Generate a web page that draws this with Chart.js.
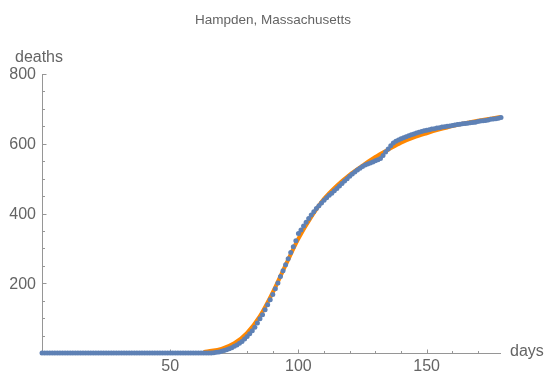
<!DOCTYPE html>
<html>
<head>
<meta charset="utf-8">
<script src="https://cdn.jsdelivr.net/npm/chart.js@4.4.1/dist/chart.umd.min.js"></script>
<style>
  html, body { margin: 0; padding: 0; background: #fff; }
</style>
</head>
<body>
<canvas id="graph" width="547" height="372"></canvas>
<script>
const blue =      'rgb(94, 129, 181)'
const orange =    'rgb(255, 135, 0)'
const axisGrey =  'rgb(150, 150, 150)'
const textGrey =  'rgb(100, 100, 100)'
const font =      '"Liberation Sans", Arial, sans-serif'

const chartTitle = 'Hampden, Massachusetts'
const xTitle = 'days'
const yTitle = 'deaths'

// cumulative deaths, one value per day starting at day 0
const deaths = [
    0,0,0,0,0,0,0,0,0,0, 0,0,0,0,0,0,0,0,0,0,
    0,0,0,0,0,0,0,0,0,0, 0,0,0,0,0,0,0,0,0,0,
    0,0,0,0,0,0,0,0,0,0, 0,0,0,0,0,0,0,0,0,0,
    0,0,0,0,0,0,0,1,2,3,                       //60-69
    5,7,9,12,15,19,23,28,33,40,                //70-79
    47,55,64,74,86,98,110,124,138,153,         //80-89
    168,184,201,219,236,253,270,288,305,322,   //90-99
    343,353,364,375,386,396,405,414,422,430,   //100-109
    438,445,452,458,465,472,479,486,493,500,   //110-119
    507,513,519,525,530,535,539,542,545,548,   //120-129
    551,554,558,566,576,585,594,602,607,611,   //130-139
    614,617,620,623,626,628,631,633,635,637,   //140-149
    639,640,642,643,645,646,648,649,650,651,   //150-159
    652,654,655,656,657,658,659,660,661,662,   //160-169
    664,665,666,667,668,670,671,672,673,675    //170-179
]
const deathDays = deaths.map((v, i) => i)

// fitted curve (orange)
const fitDays =   [63, 65, 70, 75, 80, 85, 90, 95, 100, 105, 110, 115, 120, 125, 130, 135, 140, 145, 150, 155, 160, 165, 170, 175, 179]
const fitValues = [3, 5, 12, 28, 58, 106, 174, 252, 328, 390, 442, 480, 511, 537, 562, 583, 603, 618, 630, 641, 651, 659, 666, 672, 677]

const xTicks = [50, 100, 150]
const yTicks = [200, 400, 600, 800]
const xMinorStep = 10
const yMinorStep = 50
const xMax = 179
const yMax = 800

// Mathematica-like axes: ticks pointing inwards, minor ticks, labels at the ends
const axesPlugin = {
    id: 'mmaAxes',
    beforeDatasetsDraw(chart) {
        const {ctx, chartArea: a, scales: {x, y}} = chart
        const x0 = Math.round(a.left) + 0.5
        const y0 = Math.round(a.bottom) + 0.5
        ctx.save()
        ctx.strokeStyle = axisGrey
        ctx.lineWidth = 1
        ctx.beginPath()
        ctx.moveTo(x0, a.top)
        ctx.lineTo(x0, y0)
        ctx.lineTo(a.right, y0)
        //x ticks
        for (let d = xMinorStep; d <= xMax; d += xMinorStep) {
            const px = Math.round(x.getPixelForValue(d)) + 0.5
            const len = xTicks.includes(d) ? 4 : 2.5
            ctx.moveTo(px, y0)
            ctx.lineTo(px, y0 - len)
        }
        //y ticks
        for (let v = yMinorStep; v <= yMax; v += yMinorStep) {
            const py = Math.round(y.getPixelForValue(v)) + 0.5
            const len = yTicks.includes(v) ? 4 : 2.5
            ctx.moveTo(x0, py)
            ctx.lineTo(x0 + len, py)
        }
        ctx.stroke()
        ctx.restore()
    },
    afterDraw(chart) {
        const {ctx, chartArea: a, scales: {x, y}} = chart
        ctx.save()
        ctx.fillStyle = textGrey
        ctx.font = '16px ' + font
        //x labels
        ctx.textAlign = 'center'
        ctx.textBaseline = 'top'
        xTicks.forEach(d => ctx.fillText(String(d), x.getPixelForValue(d), a.bottom + 6))
        //y labels
        ctx.textAlign = 'right'
        ctx.textBaseline = 'middle'
        yTicks.forEach(v => ctx.fillText(String(v), a.left - 6, y.getPixelForValue(v) + 1))
        //axis titles
        ctx.textAlign = 'left'
        ctx.fillText(xTitle, a.right + 9, a.bottom - 1)
        ctx.textAlign = 'center'
        ctx.fillText(yTitle, a.left - 3, a.top - 16)
        //plot title
        ctx.font = '13.5px ' + font
        ctx.fillText(chartTitle, 273, 20)
        ctx.restore()
    }
}

const myChart = new Chart(document.getElementById('graph'), {
    type: 'scatter',
    data: {
        datasets: [
            {//DATA POINTS
                label: 'deaths',
                data: deathDays.map((d, i) => ({x: d, y: deaths[i]})),
                backgroundColor: blue,
                borderWidth: 0,
                pointRadius: 2.5,
                clip: false,
                order: 0
            },
            {//FIT
                label: 'fit',
                data: fitDays.map((d, i) => ({x: d, y: fitValues[i]})),
                showLine: true,
                borderColor: orange,
                borderWidth: 4,
                cubicInterpolationMode: 'monotone',
                pointRadius: 0,
                clip: false,
                order: 1
            }
        ]
    },
    options: {
        responsive: false,
        animation: false,
        layout: {
            padding: {left: 42, right: 46, top: 74, bottom: 19}
        },
        plugins: {
            legend: {display: false},
            tooltip: {enabled: false}
        },
        scales: {
            x: {type: 'linear', min: 0, max: xMax, display: false},
            y: {type: 'linear', min: 0, max: yMax, display: false}
        }
    },
    plugins: [axesPlugin]
})
</script>
</body>
</html>
